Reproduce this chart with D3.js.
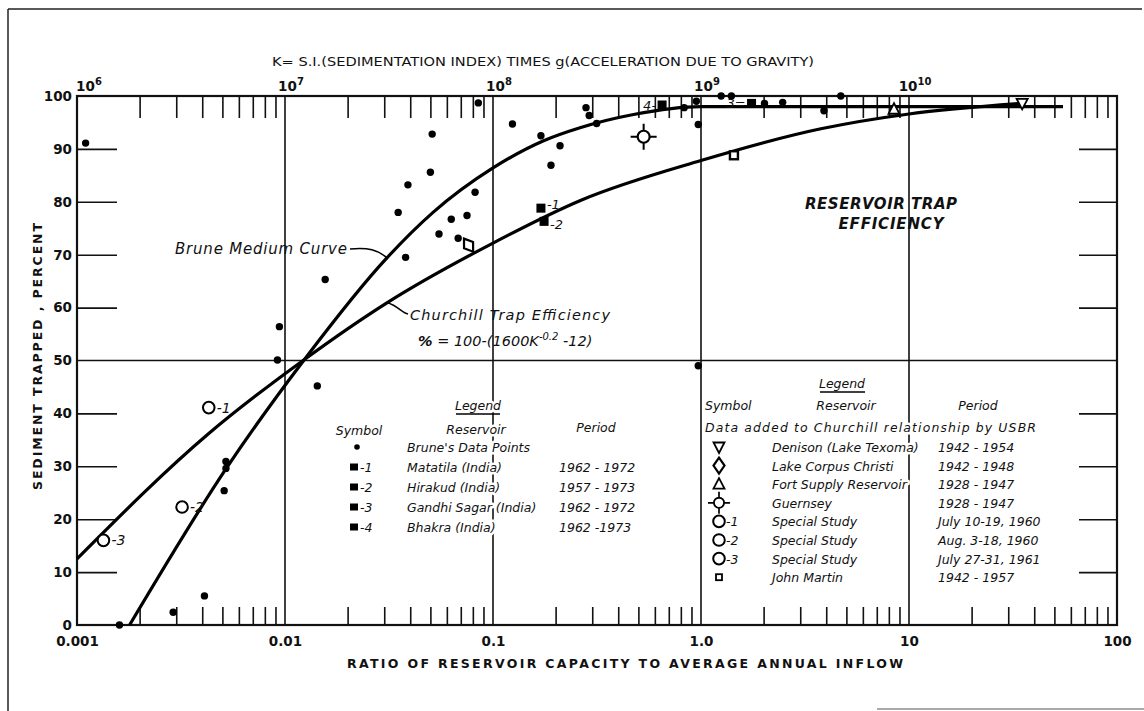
<!DOCTYPE html>
<html><head><meta charset="utf-8">
<script src="https://cdn.jsdelivr.net/npm/d3@7"></script>
<style>
html,body{margin:0;padding:0;background:#fff;}
svg{display:block;}
text{font-family:"DejaVu Sans","Liberation Sans",sans-serif;fill:#111;}
.it{font-style:italic;}
.halo{paint-order:stroke;stroke:#fff;stroke-width:5px;stroke-linejoin:round;}
</style></head><body>
<svg id="chart" width="1144" height="711"></svg>
<script>
// ---------- data ----------
const xTickValues = [0.001, 0.01, 0.1, 1, 10, 100];
const xTickLabels = ["0.001", "0.01", "0.1", "1.0", "10", "100"];
const yTickValues = [0, 10, 20, 30, 40, 50, 60, 70, 80, 90, 100];
const yTickLabels = ["0", "10", "20", "30", "40", "50", "60", "70", "80", "90", "100"];
const kExponents = [6, 7, 8, 9, 10];

// Brune medium curve
const bruneRatio = [0.00179, 0.0052, 0.0124, 0.0309, 0.0515, 0.1, 0.174, 0.262, 0.474, 1, 55];
const brunePct   = [0, 29.5, 50.2, 69.4, 78, 86.4, 91.5, 94, 96.5, 98, 98];

// Churchill trap efficiency curve
const churchRatio = [0.001, 0.0043, 0.0124, 0.0309, 0.1, 0.265, 1, 3.77, 10, 35];
const churchPct   = [12.5, 36.2, 50.2, 60.9, 72.2, 80.3, 87.8, 93.8, 96.6, 98.6];

// Brune's data points
const dotRatio = [0.0011, 0.0016, 0.0029, 0.0041, 0.0051, 0.0052, 0.0052, 0.0092, 0.0094, 0.0143, 0.0156, 0.035, 0.038, 0.039, 0.05, 0.051, 0.055, 0.063, 0.068, 0.075, 0.082, 0.085, 0.124, 0.17, 0.19, 0.21, 0.28, 0.29, 0.315, 0.83, 0.95, 0.97, 0.97, 1.25, 1.4, 2.02, 2.47, 3.9, 4.7];
const dotPct   = [91.1, 0, 2.4, 5.5, 25.4, 29.6, 30.9, 50.1, 56.4, 45.2, 65.3, 78, 69.5, 83.2, 85.6, 92.8, 73.9, 76.7, 73.1, 77.4, 81.8, 98.7, 94.7, 92.5, 86.9, 90.6, 97.8, 96.3, 94.8, 97.8, 99, 94.6, 49, 100, 100, 98.6, 98.8, 97.2, 100];

// Indian reservoirs (filled squares)
const indiaRatio = [0.17, 0.176, 1.75, 0.65];
const indiaPct   = [78.8, 76.3, 98.6, 98.3];
const indiaTag   = ["-1", "-2", "3=", "4-"];

// USBR added data
const usbrNames   = ["Denison (Lake Texoma)", "Lake Corpus Christi", "Fort Supply Reservoir", "Guernsey", "Special Study", "Special Study", "Special Study", "John Martin"];
const usbrPeriods = ["1942 - 1954", "1942 - 1948", "1928 - 1947", "1928 - 1947", "July 10-19, 1960", "Aug. 3-18, 1960", "July 27-31, 1961", "1942 - 1957"];
const usbrSymbols = ["tridown", "diamond", "triup", "guernsey", "circle", "circle", "circle", "square"];
const usbrTags    = ["", "", "", "", "-1", "-2", "-3", ""];
const usbrRatio   = [35, 0.0763, 8.47, 0.53, 0.0043, 0.0032, 0.00134, 1.44];
const usbrPct     = [98.6, 71.8, 97.5, 92.3, 41.1, 22.3, 16, 88.8];

const indiaNames   = ["Brune's Data Points", "Matatila (India)", "Hirakud (India)", "Gandhi Sagar (India)", "Bhakra (India)"];
const indiaPeriods = ["", "1962 - 1972", "1957 - 1973", "1962 - 1972", "1962 -1973"];
const indiaLegTags = ["", "-1", "-2", "-3", "-4"];

// ---------- layout ----------
const X0 = 77, X1 = 1117, Y0 = 625, Y1 = 96;
const svg = d3.select("#chart");
const x = d3.scaleLog().domain([0.001, 100]).range([X0, X1]);
const kScale = d3.scaleLog().domain([1e6, 1e11]).range([X0, X1]);
const y = d3.scaleLinear().domain([0, 100]).range([Y0, Y1]);

// outer frame
const frame = svg.append("g").attr("stroke", "#222").attr("fill", "none");
frame.append("line").attr("x1", 8).attr("y1", 9).attr("x2", 1142).attr("y2", 9).attr("stroke-width", 1.5);
frame.append("line").attr("x1", 8).attr("y1", 9).attr("x2", 8).attr("y2", 711).attr("stroke-width", 1.5);
frame.append("line").attr("x1", 877).attr("y1", 709).attr("x2", 1144).attr("y2", 709).attr("stroke-width", 1.2).attr("stroke", "#555");

// minor tick values
const minorX = [];
xTickValues.slice(0, -1).forEach(d => { for (let m = 2; m <= 9; m++) minorX.push(d * m); });
const minorK = [];
kExponents.forEach(e => { for (let m = 2; m <= 9; m++) minorK.push(Math.pow(10, e) * m); });

// gridlines
const grid = svg.append("g").attr("stroke", "#111").attr("stroke-width", 1.6);
grid.selectAll("line.v").data(xTickValues.slice(1, -1)).join("line")
  .attr("x1", d => x(d)).attr("x2", d => x(d)).attr("y1", Y1).attr("y2", Y0);
grid.append("line").attr("x1", X0).attr("x2", X1).attr("y1", y(50)).attr("y2", y(50));

// minor ticks bottom (pointing up)
const bAx = svg.append("g").attr("transform", `translate(0,${Y0})`)
  .call(d3.axisTop(x).tickValues(minorX).tickSize(18).tickSizeOuter(0).tickFormat(""));
bAx.select(".domain").remove();
bAx.selectAll("line").attr("stroke", "#111").attr("stroke-width", 1.6);

// minor ticks top (K axis, pointing down)
const tAx = svg.append("g").attr("transform", `translate(0,${Y1})`)
  .call(d3.axisBottom(kScale).tickValues(minorK).tickSize(22).tickSizeOuter(0).tickFormat(""));
tAx.select(".domain").remove();
tAx.selectAll("line").attr("stroke", "#111").attr("stroke-width", 1.6);

// y ticks inward left and right
const yIn = yTickValues.filter(v => v !== 0 && v !== 50 && v !== 100);
const lAx = svg.append("g").attr("transform", `translate(${X0},0)`)
  .call(d3.axisRight(y).tickValues(yIn).tickSize(40).tickFormat(""));
lAx.select(".domain").remove();
lAx.selectAll("line").attr("stroke", "#111").attr("stroke-width", 1.6);
const rAx = svg.append("g").attr("transform", `translate(${X1},0)`)
  .call(d3.axisLeft(y).tickValues(yIn).tickSize(38).tickFormat(""));
rAx.select(".domain").remove();
rAx.selectAll("line").attr("stroke", "#111").attr("stroke-width", 1.6);

// plot frame
svg.append("rect").attr("x", X0).attr("y", Y1).attr("width", X1 - X0).attr("height", Y0 - Y1)
  .attr("fill", "none").attr("stroke", "#111").attr("stroke-width", 2.2);

// y labels
const yLab = svg.append("g").attr("transform", `translate(${X0},0)`)
  .call(d3.axisLeft(y).tickValues(yTickValues).tickSize(0).tickPadding(5).tickFormat((d, i) => yTickLabels[i]));
yLab.select(".domain").remove();
yLab.selectAll("text").attr("font-size", 13.5).attr("font-weight", "bold")
  .attr("font-family", "'DejaVu Sans',sans-serif").attr("fill", "#111");

// x labels
const xLab = svg.append("g").attr("transform", `translate(0,${Y0})`)
  .call(d3.axisBottom(x).tickValues(xTickValues).tickSize(0).tickPadding(11).tickFormat((d, i) => xTickLabels[i]));
xLab.select(".domain").remove();
xLab.selectAll("text").attr("font-size", 13.5).attr("font-weight", "bold")
  .attr("font-family", "'DejaVu Sans',sans-serif").attr("fill", "#111");

// K labels on top
const kLab = svg.append("g");
kExponents.forEach(e => {
  const t = kLab.append("text").attr("x", kScale(Math.pow(10, e)) + (e === 6 ? 12 : 6)).attr("y", Y1 - 5)
    .attr("text-anchor", "middle").attr("font-size", 13.5).attr("font-weight", "bold");
  t.append("tspan").text("10");
  t.append("tspan").attr("dy", -6).attr("font-size", 10).text(String(e));
});

// titles
svg.append("text").attr("x", 543).attr("y", 66).attr("text-anchor", "middle")
  .attr("font-size", 12.5).attr("textLength", 542).attr("lengthAdjust", "spacingAndGlyphs")
  .text("K= S.I.(SEDIMENTATION INDEX) TIMES g(ACCELERATION DUE TO GRAVITY)");
svg.append("text").attr("x", 625).attr("y", 668).attr("text-anchor", "middle")
  .attr("font-size", 12.5).attr("font-weight", "bold").attr("textLength", 556).attr("lengthAdjust", "spacing")
  .text("RATIO OF RESERVOIR CAPACITY TO AVERAGE ANNUAL INFLOW");
svg.append("text").attr("transform", `translate(42,${(Y0 + Y1) / 2 - 4}) rotate(-90)`).attr("text-anchor", "middle")
  .attr("font-size", 12.5).attr("font-weight", "bold").attr("textLength", 267).attr("lengthAdjust", "spacing")
  .text("SEDIMENT TRAPPED , PERCENT");

// curves
const line = d3.line().x(d => x(d[0])).y(d => y(d[1])).curve(d3.curveMonotoneX);
svg.append("path").datum(bruneRatio.map((r, i) => [r, brunePct[i]]))
  .attr("d", line).attr("fill", "none").attr("stroke", "#000").attr("stroke-width", 3.2);
svg.append("path").datum(churchRatio.map((r, i) => [r, churchPct[i]]))
  .attr("d", line).attr("fill", "none").attr("stroke", "#000").attr("stroke-width", 3.2);

// annotations
svg.append("text").attr("class", "it").attr("x", 175).attr("y", 254).attr("font-size", 15)
  .attr("textLength", 172).attr("lengthAdjust", "spacing").text("Brune Medium Curve");
svg.append("path").attr("d", `M350,249 C368,247 378,250 ${x(0.0309)},${y(69.4)}`)
  .attr("fill", "none").attr("stroke", "#000").attr("stroke-width", 1.5);
svg.append("text").attr("class", "it").attr("x", 410).attr("y", 320).attr("font-size", 14.5)
  .attr("textLength", 200).attr("lengthAdjust", "spacing").text("Churchill Trap Efficiency");
const f = svg.append("text").attr("class", "it").attr("x", 418).attr("y", 346).attr("font-size", 14.5);
f.append("tspan").attr("font-weight", "bold").text("%");
f.append("tspan").text(" = 100-(1600K");
f.append("tspan").attr("dy", -6).attr("font-size", 10).text("-0.2");
f.append("tspan").attr("dy", 6).text(" -12)");
svg.append("path").attr("d", `M${x(0.0309)},${y(60.9)} C397,305 402,313 408,314`)
  .attr("fill", "none").attr("stroke", "#000").attr("stroke-width", 1.5);

svg.append("text").attr("x", 881).attr("y", 209).attr("text-anchor", "middle").attr("font-size", 15)
  .attr("font-weight", "bold").attr("font-style", "italic").attr("textLength", 152).attr("lengthAdjust", "spacing")
  .text("RESERVOIR TRAP");
svg.append("text").attr("x", 891).attr("y", 229).attr("text-anchor", "middle").attr("font-size", 15)
  .attr("font-weight", "bold").attr("font-style", "italic").attr("textLength", 105).attr("lengthAdjust", "spacing")
  .text("EFFICIENCY");

// ---------- symbol drawer ----------
function drawSymbol(g, type, cx, cy) {
  const s = g.append("g").attr("transform", `translate(${cx},${cy})`);
  if (type === "dot") s.append("circle").attr("r", 3.7).attr("fill", "#000");
  else if (type === "fsquare") s.append("rect").attr("x", -4.5).attr("y", -4.5).attr("width", 9).attr("height", 9).attr("fill", "#000");
  else if (type === "circle") s.append("circle").attr("r", 5.8).attr("fill", "#fff").attr("stroke", "#000").attr("stroke-width", 2);
  else if (type === "square") s.append("rect").attr("x", -4).attr("y", -4).attr("width", 8).attr("height", 8).attr("fill", "#fff").attr("stroke", "#000").attr("stroke-width", 2.4);
  else if (type === "diamond") s.append("path").attr("d", "M0,-8L5.5,0L0,8L-5.5,0Z").attr("fill", "#fff").attr("stroke", "#000").attr("stroke-width", 2.2);
  else if (type === "triup") s.append("path").attr("d", "M0,-6L5.5,4.5L-5.5,4.5Z").attr("fill", "#fff").attr("stroke", "#000").attr("stroke-width", 1.8);
  else if (type === "tridown") s.append("path").attr("d", "M0,6L5.5,-4.5L-5.5,-4.5Z").attr("fill", "#fff").attr("stroke", "#000").attr("stroke-width", 1.8);
  else if (type === "guernsey") {
    s.append("path").attr("d", "M0,-13V-6M0,6V13M-13,0H-6M6,0H13").attr("stroke", "#000").attr("stroke-width", 2);
    s.append("circle").attr("r", 6).attr("fill", "#fff").attr("stroke", "#000").attr("stroke-width", 2.2);
  }
  return s;
}

// data points
const pts = svg.append("g");
dotRatio.forEach((r, i) => drawSymbol(pts, "dot", x(r), y(dotPct[i])));
indiaRatio.forEach((r, i) => {
  drawSymbol(pts, "fsquare", x(r), y(indiaPct[i]));
  const left = indiaTag[i].endsWith("=") || indiaTag[i].endsWith("-");
  const dy = i === 0 ? 1 : (i === 1 ? 8 : 5);
  pts.append("text").attr("class", "it").attr("x", x(r) + (left ? -6 : 6)).attr("y", y(indiaPct[i]) + dy)
    .attr("text-anchor", left ? "end" : "start").attr("font-size", 13).text(indiaTag[i]);
});
usbrRatio.forEach((r, i) => {
  const t = drawSymbol(pts, usbrSymbols[i], x(r), y(usbrPct[i]));
  if (usbrSymbols[i] === "diamond") t.attr("transform", `translate(${x(r)},${y(usbrPct[i])}) rotate(-35)`);
  if (usbrTags[i]) pts.append("text").attr("class", "it").attr("x", x(r) + 8).attr("y", y(usbrPct[i]) + 5)
    .attr("font-size", 14).text(usbrTags[i]);
});

// ---------- legends ----------
const lg = svg.append("g").attr("font-size", 12.5);
// left legend
lg.append("text").attr("class", "it halo").attr("x", 478).attr("y", 410).attr("text-anchor", "middle").text("Legend");
lg.append("line").attr("x1", 456).attr("x2", 500).attr("y1", 414).attr("y2", 414).attr("stroke", "#000").attr("stroke-width", 1.3);
lg.append("text").attr("class", "it halo").attr("x", 359).attr("y", 435).attr("text-anchor", "middle").text("Symbol");
lg.append("text").attr("class", "it halo").attr("x", 476).attr("y", 434).attr("text-anchor", "middle").text("Reservoir");
lg.append("text").attr("class", "it halo").attr("x", 596).attr("y", 432).attr("text-anchor", "middle").text("Period");
indiaNames.forEach((n, i) => {
  const cy = 447 + i * 20;
  if (i === 0) drawSymbol(lg, "dot", 357, cy).select("circle").attr("r", 2.8);
  else {
    drawSymbol(lg, "fsquare", 354, cy).select("rect").attr("x", -4).attr("y", -3.5).attr("width", 8).attr("height", 7);
    lg.append("text").attr("class", "it").attr("x", 360).attr("y", cy + 5).text(indiaLegTags[i]);
  }
  lg.append("text").attr("class", "it halo").attr("x", 407).attr("y", cy + 5).text(n);
  if (indiaPeriods[i]) lg.append("text").attr("class", "it halo").attr("x", 559).attr("y", cy + 5).text(indiaPeriods[i]);
});
// right legend
lg.append("text").attr("class", "it halo").attr("x", 842).attr("y", 388).attr("text-anchor", "middle").text("Legend");
lg.append("line").attr("x1", 820).attr("x2", 865).attr("y1", 392).attr("y2", 392).attr("stroke", "#000").attr("stroke-width", 1.3);
lg.append("text").attr("class", "it halo").attr("x", 705).attr("y", 410).text("Symbol");
lg.append("text").attr("class", "it halo").attr("x", 846).attr("y", 410).attr("text-anchor", "middle").text("Reservoir");
lg.append("text").attr("class", "it halo").attr("x", 978).attr("y", 410).attr("text-anchor", "middle").text("Period");
lg.append("text").attr("class", "it halo").attr("x", 705).attr("y", 432).attr("textLength", 331).attr("lengthAdjust", "spacing")
  .text("Data added to Churchill relationship by USBR");
usbrNames.forEach((n, i) => {
  const cy = 447 + i * 18.6;
  const s = drawSymbol(lg, usbrSymbols[i], 719, cy);
  if (usbrSymbols[i] === "guernsey") s.attr("transform", `translate(719,${cy}) scale(0.85)`);
  if (usbrSymbols[i] === "square") s.attr("transform", `translate(719,${cy}) scale(0.75)`);
  if (usbrTags[i]) lg.append("text").attr("class", "it").attr("x", 726).attr("y", cy + 5).text(usbrTags[i]);
  lg.append("text").attr("class", "it halo").attr("x", 772).attr("y", cy + 5).text(n);
  lg.append("text").attr("class", "it halo").attr("x", 938).attr("y", cy + 5).text(usbrPeriods[i]);
});
</script>
</body></html>
